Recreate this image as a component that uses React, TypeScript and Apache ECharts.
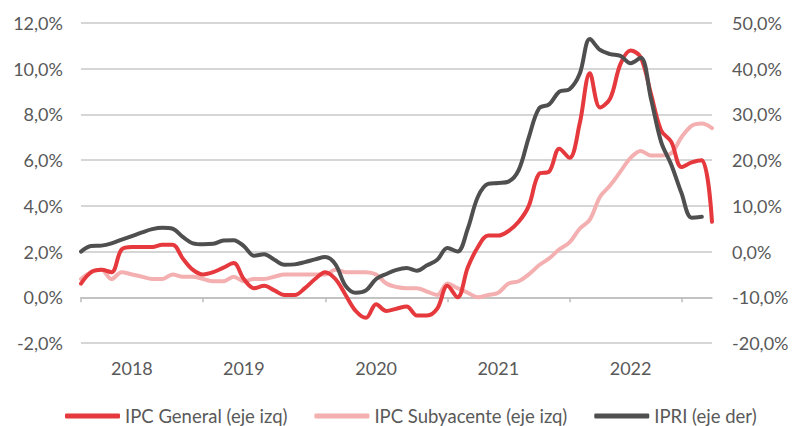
import React, { useEffect, useRef } from "react";
import * as echarts from "echarts";

const categories = [
  "2018-01", "2018-02", "2018-03", "2018-04", "2018-05", "2018-06", "2018-07", "2018-08", "2018-09", "2018-10", "2018-11", "2018-12",
  "2019-01", "2019-02", "2019-03", "2019-04", "2019-05", "2019-06", "2019-07", "2019-08", "2019-09", "2019-10", "2019-11", "2019-12",
  "2020-01", "2020-02", "2020-03", "2020-04", "2020-05", "2020-06", "2020-07", "2020-08", "2020-09", "2020-10", "2020-11", "2020-12",
  "2021-01", "2021-02", "2021-03", "2021-04", "2021-05", "2021-06", "2021-07", "2021-08", "2021-09", "2021-10", "2021-11", "2021-12",
  "2022-01", "2022-02", "2022-03", "2022-04", "2022-05", "2022-06", "2022-07", "2022-08", "2022-09", "2022-10", "2022-11", "2022-12",
  "2023-01", "2023-02", "2023-03",
];

// IPC General (left axis, %)
const ipcGeneral = [
  0.6, 1.1, 1.2, 1.1, 2.1, 2.2, 2.2, 2.2, 2.3, 2.3, 1.7, 1.2,
  1.0, 1.1, 1.3, 1.5, 0.8, 0.4, 0.5, 0.3, 0.1, 0.1, 0.4, 0.8,
  1.1, 0.8, 0.1, -0.6, -0.9, -0.3, -0.6, -0.5, -0.4, -0.8, -0.8, -0.5,
  0.5, 0.0, 1.3, 2.2, 2.7, 2.7, 2.9, 3.3, 4.0, 5.4, 5.5, 6.5,
  6.1, 7.6, 9.8, 8.3, 8.7, 10.2, 10.8, 10.5, 8.9, 7.3, 6.8, 5.7,
  5.9, 6.0, 3.3,
];

// IPC Subyacente (left axis, %)
const ipcSubyacente = [
  0.8, 1.1, 1.2, 0.8, 1.1, 1.0, 0.9, 0.8, 0.8, 1.0, 0.9, 0.9,
  0.8, 0.7, 0.7, 0.9, 0.7, 0.8, 0.8, 0.9, 1.0, 1.0, 1.0, 1.0,
  1.0, 1.2, 1.1, 1.1, 1.1, 1.0, 0.6, 0.45, 0.4, 0.4, 0.25, 0.1,
  0.6, 0.4, 0.2, 0.0, 0.1, 0.2, 0.6, 0.7, 1.0, 1.4, 1.7, 2.1,
  2.4, 3.0, 3.4, 4.4, 4.9, 5.5, 6.1, 6.4, 6.2, 6.2, 6.3, 7.0,
  7.5, 7.6, 7.4,
];

// IPRI (right axis, %)
const ipri = [
  0.0, 1.2, 1.3, 1.8, 2.6, 3.4, 4.2, 4.9, 5.2, 5.0, 3.2, 1.8,
  1.6, 1.7, 2.4, 2.5, 1.2, -0.9, -0.6, -1.8, -2.9, -2.8, -2.3, -1.7,
  -1.2, -2.8, -7.5, -9.0, -8.5, -6.0, -4.9, -4.0, -3.6, -4.2, -3.0, -1.8,
  0.8, 0.0, 5.0, 12.0, 14.8, 15.0, 15.3, 17.8, 25.0, 31.3, 32.2, 35.0,
  35.5, 38.9, 46.5, 44.1, 43.2, 42.8, 41.2, 42.4, 33.5, 24.0, 19.0, 12.8,
  7.4, 7.6, null,
];

const seriesNames = ["IPC General (eje izq)", "IPC Subyacente (eje izq)", "IPRI (eje der)"];
const yearLabelIndex = [5, 16, 29, 41, 54];
const tickIndex = [0, 12, 24, 36, 48, 59];
const leftAxis = { min: -2, max: 12, interval: 2 };
const rightAxis = { min: -20, max: 50, interval: 10 };

const RED = "#E5393D";
const PINK = "#F4B0B0";
const DARK = "#4F4F4F";
const TEXT = "#595959";
const GRID = "#C9C9C9";
const FONT = "Lato";

const pct = (v: number) => v.toFixed(1).replace(".", ",") + "%";

export default function App() {
  const ref = useRef<HTMLDivElement>(null);

  useEffect(() => {
    if (!ref.current) return;
    const chart = echarts.init(ref.current, undefined, { renderer: "svg" });
    chart.setOption({
      animation: false,
      backgroundColor: "#ffffff",
      textStyle: { fontFamily: FONT },
      grid: {
        left: 81,
        right: 82,
        top: 23,
        bottom: 83,
        containLabel: false,
        outerBoundsMode: "none",
      },
      legend: {
        data: seriesNames,
        left: 60,
        top: 401,
        itemWidth: 55,
        itemHeight: 5,
        itemGap: 27,
        icon: "roundRect",
        textStyle: { fontSize: 18.5, color: TEXT, fontFamily: FONT, lineHeight: 20 },
      },
      xAxis: [
        {
          type: "category",
          data: categories,
          boundaryGap: false,
          position: "bottom",
          axisLine: {
            show: true,
            onZero: true,
            onZeroAxisIndex: 0,
            lineStyle: { color: "#BDBDBD", width: 1.5 },
          },
          axisTick: {
            show: true,
            length: 5,
            interval: (i: number) => tickIndex.includes(i),
            lineStyle: { color: "#BDBDBD", width: 1.5 },
          },
          axisLabel: { show: false },
          splitLine: { show: false },
        },
        {
          type: "category",
          data: categories,
          boundaryGap: false,
          position: "bottom",
          axisLine: { show: false, onZero: false },
          axisTick: { show: false },
          splitLine: { show: false },
          axisLabel: {
            show: true,
            interval: (i: number) => yearLabelIndex.includes(i),
            formatter: (v: string) => v.slice(0, 4),
            fontSize: 18,
            color: TEXT,
            fontFamily: FONT,
            margin: 16,
          },
        },
      ],
      yAxis: [
        {
          type: "value",
          position: "left",
          min: leftAxis.min,
          max: leftAxis.max,
          interval: leftAxis.interval,
          axisLine: { show: false },
          axisTick: { show: false },
          axisLabel: { formatter: pct, fontSize: 18, color: TEXT, fontFamily: FONT, margin: 18 },
          splitLine: { show: true, lineStyle: { color: GRID, width: 1.5 } },
        },
        {
          type: "value",
          position: "right",
          min: rightAxis.min,
          max: rightAxis.max,
          interval: rightAxis.interval,
          axisLine: { show: false },
          axisTick: { show: false },
          axisLabel: { formatter: pct, fontSize: 18, color: TEXT, fontFamily: FONT, margin: 20 },
          splitLine: { show: false },
        },
      ],
      series: [
        {
          name: seriesNames[1],
          type: "line",
          data: ipcSubyacente,
          yAxisIndex: 0,
          xAxisIndex: 0,
          symbol: "none",
          smooth: 0.35,
          lineStyle: { color: PINK, width: 4, cap: "round", join: "round" },
          itemStyle: { color: PINK },
        },
        {
          name: seriesNames[0],
          type: "line",
          data: ipcGeneral,
          yAxisIndex: 0,
          xAxisIndex: 0,
          symbol: "none",
          smooth: 0.35,
          lineStyle: { color: RED, width: 4, cap: "round", join: "round" },
          itemStyle: { color: RED },
        },
        {
          name: seriesNames[2],
          type: "line",
          data: ipri,
          yAxisIndex: 1,
          xAxisIndex: 0,
          symbol: "none",
          smooth: 0.35,
          lineStyle: { color: DARK, width: 4, cap: "round", join: "round" },
          itemStyle: { color: DARK },
        },
      ],
    });
    return () => chart.dispose();
  }, []);

  return (
    <div
      ref={ref}
      style={{ position: "absolute", left: 0, top: 0, width: 794, height: 426, background: "#fff" }}
    />
  );
}
